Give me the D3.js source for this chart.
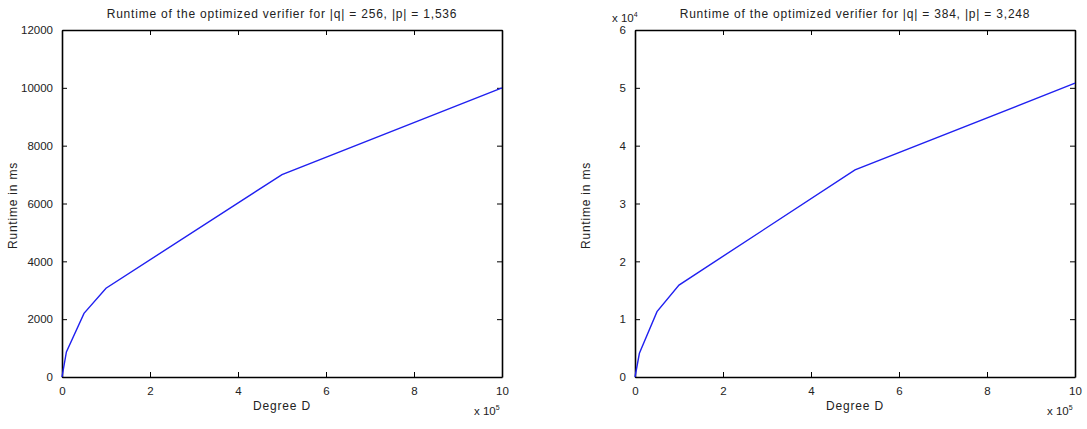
<!DOCTYPE html>
<html>
<head>
<meta charset="utf-8">
<script src="https://cdn.jsdelivr.net/npm/d3@7"></script>
<style>
  body { margin: 0; background: #fff; }
  svg text { font-family: "Liberation Sans", Arial, sans-serif; fill: #222; }
  .axis path, .axis line { stroke: #000; }
  .axis path { stroke-width: 1.6; }
  .label { font-size: 12px; letter-spacing: 0.8px; }
</style>
</head>
<body>
<div id="chart"></div>
<script>
// degree D values
const degrees = [0, 10000, 50000, 100000, 500000, 1000000];
// runtime in ms
const runtimeA = [0, 870, 2200, 3070, 7000, 10000];
const runtimeB = [0, 4100, 11300, 15900, 35800, 50800];

const titles = [
    "Runtime of the optimized verifier for |q| = 256, |p| = 1,536",
    "Runtime of the optimized verifier for |q| = 384, |p| = 3,248"
];
const xTicks = [0, 2, 4, 6, 8, 10];
const yTicksA = [0, 2000, 4000, 6000, 8000, 10000, 12000];
const yTicksB = [0, 1, 2, 3, 4, 5, 6];

const svg = d3.select("#chart")
    .append("svg")
    .attr("width", 1087)
    .attr("height", 429);

const panels = [
    { left: 62, values: runtimeA, yMax: 12000, yTicks: yTicksA, yScaleDiv: 1, title: titles[0], expo: null },
    { left: 635, values: runtimeB, yMax: 60000, yTicks: yTicksB, yScaleDiv: 10000, title: titles[1], expo: "4" }
];

const plot = { top: 30, width: 440, height: 347 };

panels.forEach(p => {
    const g = svg.append("g").attr("transform", `translate(${p.left}, ${plot.top})`);

    const x = d3.scaleLinear().domain([0, 10]).range([0, plot.width]);
    const y = d3.scaleLinear().domain([0, p.yMax / p.yScaleDiv]).range([plot.height, 0]);

    g.append("g").attr("class", "axis")
        .attr("transform", `translate(0, ${plot.height})`)
        .call(d3.axisBottom(x).tickValues(xTicks).tickFormat(d3.format("d"))
            .tickSizeInner(-5).tickSizeOuter(0).tickPadding(10));
    g.append("g").attr("class", "axis")
        .call(d3.axisTop(x).tickValues(xTicks).tickSizeInner(-5).tickSizeOuter(0).tickFormat(""));
    g.append("g").attr("class", "axis")
        .call(d3.axisLeft(y).tickValues(p.yTicks).tickFormat(d3.format("d"))
            .tickSizeInner(-5).tickSizeOuter(0).tickPadding(9));
    g.append("g").attr("class", "axis")
        .attr("transform", `translate(${plot.width}, 0)`)
        .call(d3.axisRight(y).tickValues(p.yTicks).tickSizeInner(-5).tickSizeOuter(0).tickFormat(""));

    g.selectAll(".axis text").attr("font-size", 11.5).attr("fill", "#222")
        .style("font-family", "'Liberation Sans', Arial, sans-serif");

    const line = d3.line()
        .x((d, i) => x(degrees[i] / 100000))
        .y(d => y(d / p.yScaleDiv));

    g.append("path")
        .datum(p.values)
        .attr("fill", "none")
        .attr("stroke", "#2020f0")
        .attr("stroke-width", 1.4)
        .attr("d", line);

    // title
    g.append("text")
        .attr("class", "label")
        .attr("x", plot.width / 2)
        .attr("y", -12)
        .attr("text-anchor", "middle")
        .text(p.title);

    // axis labels
    g.append("text")
        .attr("class", "label")
        .attr("x", plot.width / 2)
        .attr("y", plot.height + 33)
        .attr("text-anchor", "middle")
        .text("Degree D");

    g.append("text")
        .attr("class", "label")
        .attr("transform", `translate(-45, ${plot.height / 2 + 2}) rotate(-90)`)
        .attr("text-anchor", "middle")
        .text("Runtime in ms");

    // x exponent
    const xe = g.append("text")
        .attr("x", plot.width - 28)
        .attr("y", plot.height + 38)
        .attr("font-size", 11.5);
    xe.append("tspan").text("x 10");
    xe.append("tspan").attr("font-size", 7).attr("dy", -5).text("5");

    if (p.expo) {
        const ye = g.append("text")
            .attr("x", -23)
            .attr("y", -8)
            .attr("font-size", 11.5);
        ye.append("tspan").text("x 10");
        ye.append("tspan").attr("font-size", 7).attr("dy", -5).text(p.expo);
    }
});
</script>
</body>
</html>
